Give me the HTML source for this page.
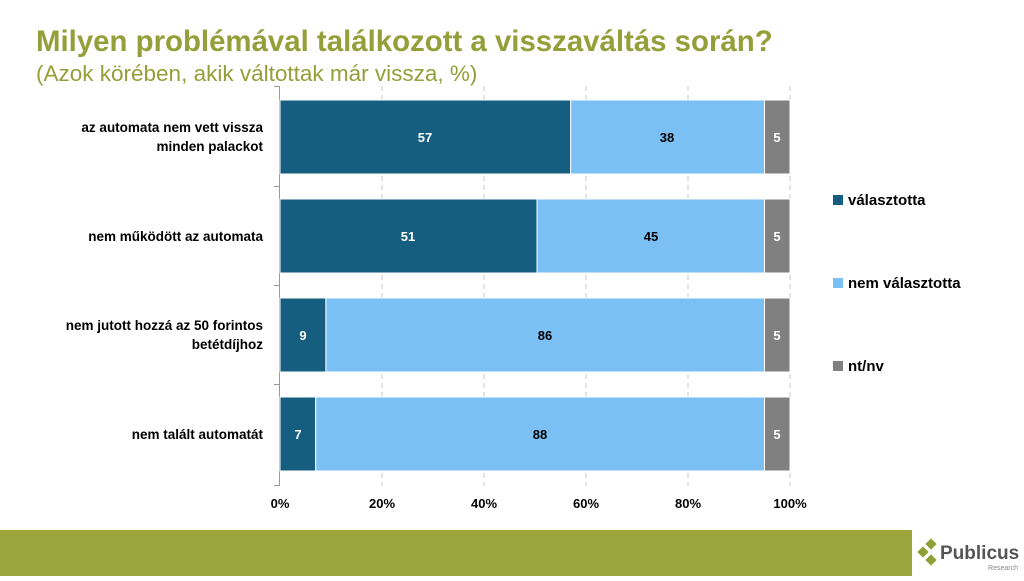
<!DOCTYPE html>
<html><head><meta charset="utf-8"><style>
body{margin:0;width:1024px;height:576px;background:#fff;overflow:hidden;font-family:"Liberation Sans",sans-serif}
</style></head><body>
<svg width="1024" height="576" xmlns="http://www.w3.org/2000/svg" font-family="Liberation Sans, sans-serif">
<text x="36" y="51" font-size="29.4" font-weight="bold" fill="#93a03a">Milyen problémával találkozott a visszaváltás során?</text>
<text x="36" y="81" font-size="22.5" fill="#93a03a">(Azok körében, akik váltottak már vissza, %)</text>
<g stroke="#c8c8c8" stroke-dasharray="5,4" stroke-width="1">
<line x1="382" y1="86" x2="382" y2="486"/><line x1="484" y1="86" x2="484" y2="486"/><line x1="586" y1="86" x2="586" y2="486"/><line x1="688" y1="86" x2="688" y2="486"/><line x1="790" y1="86" x2="790" y2="486"/>
</g>
<g stroke="#999" stroke-width="1">
<line x1="279.5" y1="86" x2="279.5" y2="486"/>
<line x1="274" y1="86.5" x2="280" y2="86.5"/><line x1="274" y1="186.5" x2="280" y2="186.5"/><line x1="274" y1="285.5" x2="280" y2="285.5"/><line x1="274" y1="384.5" x2="280" y2="384.5"/><line x1="274" y1="485.5" x2="280" y2="485.5"/>
</g>
<g stroke="#fff" stroke-width="1">
<rect x="280" y="100" width="290.7" height="74" fill="#165e80"/><rect x="570.7" y="100" width="193.8" height="74" fill="#7ac0f4"/><rect x="764.5" y="100" width="25.5" height="74" fill="#808080"/>
<rect x="280" y="199" width="257" height="74" fill="#165e80"/><rect x="537" y="199" width="227.5" height="74" fill="#7ac0f4"/><rect x="764.5" y="199" width="25.5" height="74" fill="#808080"/>
<rect x="280" y="298" width="45.9" height="74" fill="#165e80"/><rect x="325.9" y="298" width="438.6" height="74" fill="#7ac0f4"/><rect x="764.5" y="298" width="25.5" height="74" fill="#808080"/>
<rect x="280" y="397" width="35.7" height="74" fill="#165e80"/><rect x="315.7" y="397" width="448.8" height="74" fill="#7ac0f4"/><rect x="764.5" y="397" width="25.5" height="74" fill="#808080"/>
</g>
<g font-size="13" font-weight="bold" text-anchor="middle">
<text x="425" y="142" fill="#fff">57</text><text x="667" y="142" fill="#000">38</text><text x="777" y="142" fill="#fff">5</text>
<text x="408" y="241" fill="#fff">51</text><text x="651" y="241" fill="#000">45</text><text x="777" y="241" fill="#fff">5</text>
<text x="303" y="340" fill="#fff">9</text><text x="545" y="340" fill="#000">86</text><text x="777" y="340" fill="#fff">5</text>
<text x="298" y="439" fill="#fff">7</text><text x="540" y="439" fill="#000">88</text><text x="777" y="439" fill="#fff">5</text>
</g>
<g font-size="13.5" font-weight="bold" text-anchor="end" fill="#000">
<text x="263" y="132">az automata nem vett vissza</text><text x="263" y="151">minden palackot</text>
<text x="263" y="241">nem működött az automata</text>
<text x="263" y="330">nem jutott hozzá az 50 forintos</text><text x="263" y="349">betétdíjhoz</text>
<text x="263" y="439">nem talált automatát</text>
</g>
<g font-size="13" font-weight="bold" text-anchor="middle">
<text x="280" y="508">0%</text><text x="382" y="508">20%</text><text x="484" y="508">40%</text><text x="586" y="508">60%</text><text x="688" y="508">80%</text><text x="790" y="508">100%</text>
</g>
<rect x="833" y="195" width="10" height="10" fill="#165e80"/><text x="848" y="205" font-size="15" font-weight="bold">választotta</text>
<rect x="833" y="278" width="10" height="10" fill="#7ac0f4"/><text x="848" y="288" font-size="15" font-weight="bold">nem választotta</text>
<rect x="833" y="361" width="10" height="10" fill="#808080"/><text x="848" y="371" font-size="15" font-weight="bold">nt/nv</text>
<rect x="0" y="530" width="912" height="46" fill="#9aa53c"/>
<g fill="#8ea03a"><rect x="927" y="540" width="8" height="8" transform="rotate(45 931 544)"/><rect x="919" y="548" width="8" height="8" transform="rotate(45 923 552)"/><rect x="927" y="556" width="8" height="8" transform="rotate(45 931 560)"/></g>
<text x="940" y="559" font-size="19" font-weight="bold" fill="#555">Publicus</text>
<text x="1018" y="570" font-size="7" fill="#888" text-anchor="end">Research</text>
</svg>
</body></html>
